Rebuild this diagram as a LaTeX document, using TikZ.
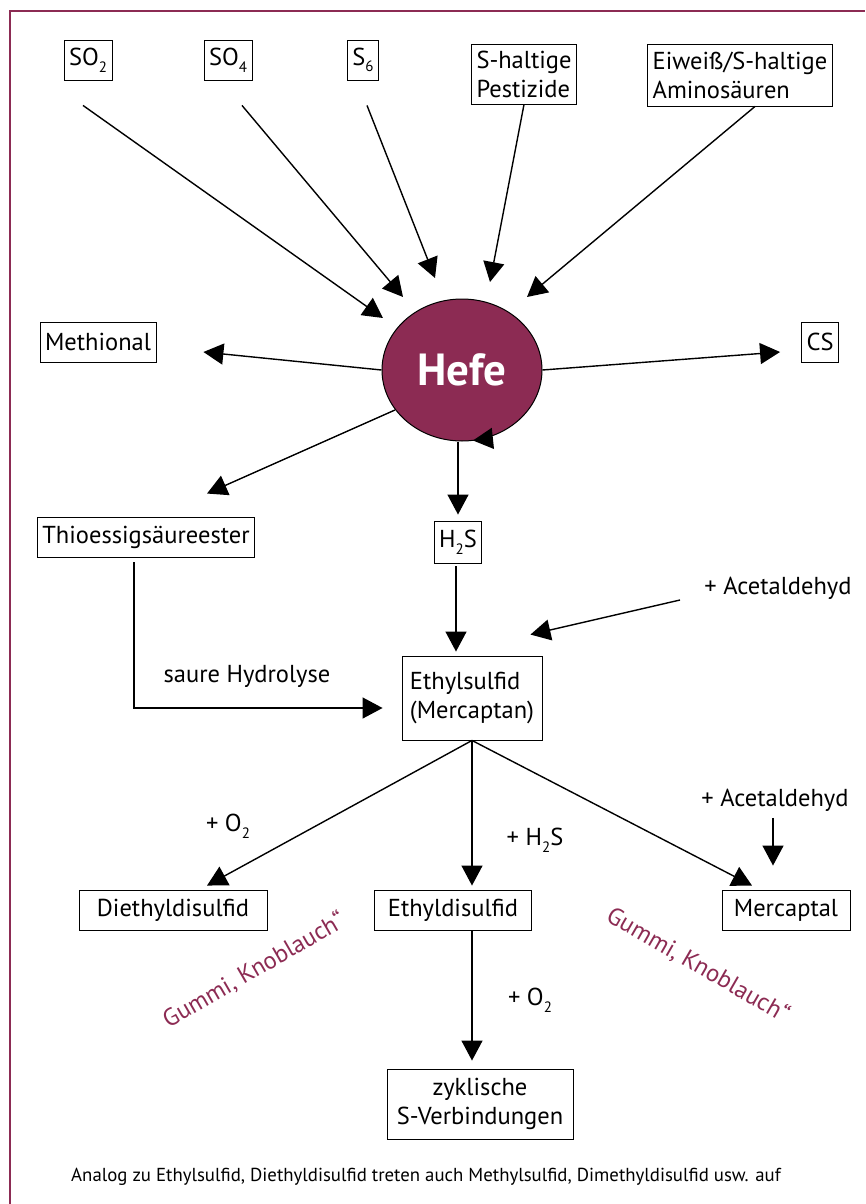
\documentclass[tikz,border=0pt]{standalone}
\usepackage{fontspec}
\setmainfont{PT Sans}
\usepackage{tikz}
\usetikzlibrary{arrows.meta,positioning,shapes.geometric}
\usepackage{xcolor}
\definecolor{hefered}{RGB}{140,43,83}
\newcommand\chemsub[1]{\raisebox{-0.55ex}{\fontsize{15}{15}\selectfont #1}}

\begin{document}
\begin{tikzpicture}[
    x=1pt, y=-1pt,
    box/.style={draw, line width=0.9pt, minimum height=40pt, inner xsep=5pt, inner ysep=3pt, align=center, font=\fontsize{24.5}{29}\selectfont},
    lbl/.style={font=\fontsize{24.5}{29}\selectfont},
    smell/.style={font=\fontsize{24.5}{29}\selectfont, text=hefered},
    arr/.style={-{Triangle[length=20pt, width=21pt]}, line width=1.4pt},
]
\useasboundingbox (0,0) rectangle (865,1204);
\draw[hefered, line width=1.5pt] (10,1204) -- (10,11) -- (865,11);

% Sources
\node[box] (so2) at (88,60) {SO\chemsub{2}};
\node[box] (so4) at (228,60) {SO\chemsub{4}};
\node[box] (s6) at (363,60) {S\chemsub{6}};
\node[box, align=left, minimum height=60pt] (pest) at (524,74) {S-haltige\\Pestizide};
\node[box, align=left, minimum height=62pt] (eiw) at (740,75) {Eiweiß/S-haltige\\Aminosäuren};

% Yeast
\node[ellipse, draw, line width=1pt, fill=hefered, minimum width=160pt, minimum height=142pt,
      text=white, font=\fontsize{45}{45}\selectfont\bfseries] (hefe) at (462,370) {Hefe};

\node[box] (meth) at (98,342) {Methional};
\node[box] (cs) at (820,342) {CS};
\node[box] (thio) at (146,537) {Thioessigsäureester};
\node[box, minimum height=42pt] (h2s) at (458,542) {H\chemsub{2}S};
\node[lbl] (acet1) at (778,588) {+ Acetaldehyd};

% Mercaptan
\node[box, align=left, minimum width=140pt, minimum height=84pt] (ethyl) at (472,698) {Ethylsulfid\\(Mercaptan)};
\node[lbl] (hydro) at (247,676) {saure Hydrolyse};

% Products
\node[box, minimum width=188pt] (diethyl) at (173,910) {Diethyldisulfid};
\node[box, minimum width=157pt] (ethyldi) at (453,910) {Ethyldisulfid};
\node[box, minimum width=128pt] (mercaptal) at (786,910) {Mercaptal};
\node[lbl] (o2a) at (228,826) {+ O\chemsub{2}};
\node[lbl] (h2sadd) at (535,840) {+ H\chemsub{2}S};
\node[lbl] (acet2) at (775,800) {+ Acetaldehyd};
\node[smell, rotate=30] (gummia) at (254,970) {Gummi, Knoblauch“};
\node[smell, rotate=-30] (gummib) at (698,965) {Gummi, Knoblauch“};
\node[lbl] (o2b) at (530,1000) {+ O\chemsub{2}};
\node[box, minimum width=186pt, minimum height=70pt] (zyk) at (480,1104) {zyklische\\S-Verbindungen};

\node[font=\fontsize{18.8}{22}\selectfont] (hint) at (426,1177) {Analog zu Ethylsulfid, Diethyldisulfid treten auch Methylsulfid, Dimethyldisulfid usw. auf};

% Arrows
\draw[arr] ([shift={(-5,25)}]so2.south) -- ([shift={(-79,-52)}]hefe.center);
\draw[arr] ([shift={(14,25)}]so4.south) -- ([shift={(-59,-73)}]hefe.center);
\draw[arr] ([shift={(4,25)}]s6.south) -- ([shift={(-27,-92)}]hefe.center);
\draw[arr] (pest.south) -- ([shift={(28,-88)}]hefe.center);
\draw[arr] ([shift={(15,0)}]eiw.south) -- ([shift={(65,-73)}]hefe.center);
\draw[arr] (hefe.west) -- ([shift={(47,10)}]meth.east);
\draw[arr] (hefe.east) -- ([shift={(-21,10)}]cs.west);
\draw[arr] ([shift={(-67,40)}]hefe.center) -- ([shift={(61,-23)}]thio.north);
\draw[arr] (hefe.south -| h2s.north) -- ([shift={(0,-6)}]h2s.north);
\draw[arr] ([shift={(30,-3)}]hefe.south) -- ([shift={(11,-1)}]hefe.south);
\draw[arr] ([shift={(-2,3)}]h2s.south) -- ([shift={(-2,-4)}]h2s.south |- ethyl.north);
\draw[arr] ([shift={(-98,12)}]acet1.center) -- ([shift={(-12,-21)}]ethyl.north east);
\draw[arr] ([shift={(-12,5)}]thio.south) |- ([shift={(-19,10)}]ethyl.west);
\draw[arr] (ethyl.south) -- ([shift={(34,-4)}]diethyl.north);
\draw[arr] (ethyl.south) -- ([shift={(0,-4)}]ethyl.south |- ethyldi.north);
\draw[arr] (ethyl.south) -- ([shift={(-34,-4)}]mercaptal.north);
\draw[arr] ([shift={(-2,3)}]acet2.south) -- ([shift={(-13,-24)}]mercaptal.north);
\draw[arr] (ethyldi.south -| ethyl.south) -- ([shift={(0,-8)}]ethyl.south |- zyk.north);
\end{tikzpicture}
\end{document}
